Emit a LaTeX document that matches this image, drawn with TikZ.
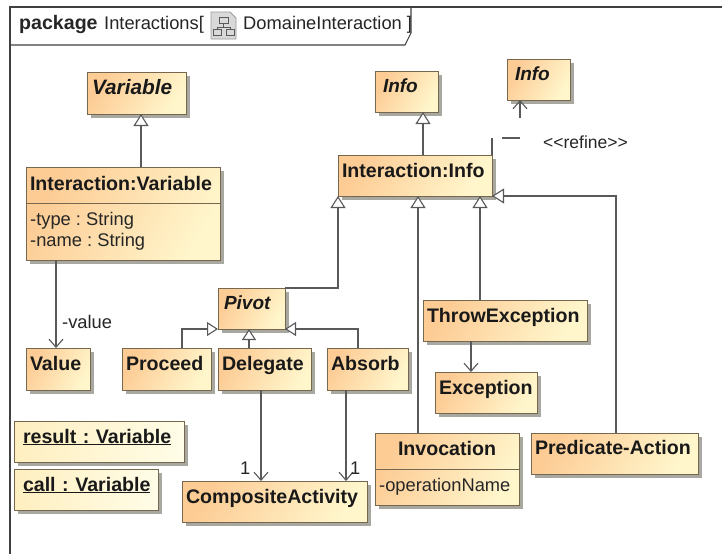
\documentclass[tikz,border=0pt]{standalone}
\usepackage{fontspec}
\setmainfont{Liberation Sans}
\usetikzlibrary{shadows,arrows.meta,calc}
\definecolor{boxline}{HTML}{75684F}
\definecolor{connline}{HTML}{595959}
\definecolor{orangeC}{HTML}{FDCB94}
\definecolor{yellowC}{HTML}{FFF6CC}
\definecolor{paleL}{HTML}{FFEFC0}
\definecolor{paleR}{HTML}{FFFDE8}
\definecolor{shadowC}{HTML}{A8A8A0}
\tikzset{
  uml/.style n args={4}{anchor=north west,draw=boxline,line width=0.9pt,outer sep=0pt,
    inner ysep=0pt,inner xsep=#3,text width=#1pt-2*#3,minimum height=#2pt,
    text height=#4pt,text depth=#2pt-#4pt,align=left,
    font=\fontsize{19.6}{22}\selectfont\bfseries,text=black!90,
    drop shadow={shadow xshift=3.5pt,shadow yshift=-3.5pt,fill=shadowC,opacity=1},
    left color=orangeC,right color=yellowC,shading angle=60},
  absname/.style={font=\fontsize{19}{22}\selectfont\bfseries\itshape},
  objbox/.style={left color=paleL,right color=paleR},
  plain/.style={font=\fontsize{18.3}{20}\selectfont,text=black!85,inner sep=0pt,anchor=base west},
  conn/.style={draw=connline,line width=1.1pt},
  gen/.style={conn,-{Triangle[open,length=12pt,width=15pt,fill=white]}},
  genS/.style={conn,-{Triangle[open,length=11pt,width=14pt,fill=white]}},
  assoc/.style={conn,-{Straight Barb[length=8pt,width=14pt]}},
}
\begin{document}
\frenchspacing
\begin{tikzpicture}[x=1pt,y=-1pt]
\useasboundingbox (0,0) rectangle (722,554);
\fill[white] (0,0) rectangle (722,554);
% frame
\coordinate (frameBL) at (10,554);
\coordinate (frameTL) at (10,7);
\coordinate (frameTR) at (722,7);
\draw[line width=1.1pt,draw=black!75] (frameBL) -- (frameTL) -- (frameTR);
\draw[line width=1.1pt,draw=black!75] (10,45) -- (405,45) -- (411,33) -- (411,7);
\node[plain,font=\fontsize{19.6}{22}\selectfont\bfseries] (pkg) at (19,29) {package};
\node[plain] (pkgname) at (104,29) {Interactions[};
\node[plain] (dgm) at (243,29) {DomaineInteraction ]};
% icon
\draw[draw=gray!80,fill=black!15,line width=0.8pt] (211,12) -- (230,12) -- (236,18) -- (236,39) -- (211,39) -- cycle;
\draw[draw=black!65,line width=0.9pt] (219,17) rectangle (228,23) (223.5,23) -- (223.5,27) (217,27) -- (230,27) (217,27) -- (217,29) (230,27) -- (230,29) (213.5,29) rectangle (221,35) (226,29) rectangle (234,35);
% boxes
\node[uml={99}{42}{5pt}{22},font=\fontsize{20.8}{22}\selectfont\bfseries\itshape] (variable) at (87,72) {Variable};
\node[uml={194}{93}{4pt}{23}] (ivar) at (26,167) {Interaction:Variable};
\node[uml={64}{42}{4pt}{22}] (value) at (26,348) {Value};
\node[uml={89}{42}{4pt}{22}] (proceed) at (122,348) {Proceed};
\node[uml={93}{42}{4pt}{22}] (delegate) at (218,348) {Delegate};
\node[uml={81}{42}{4pt}{22}] (absorb) at (327,348) {Absorb};
\node[uml={67}{41}{6pt}{21},absname] (pivot) at (218,288) {Pivot};
\node[uml={170}{41}{9pt}{22},objbox] (result) at (14,421) {\underline{result : Variable}};
\node[uml={144}{41}{9pt}{22},objbox] (call) at (14,469) {\underline{call : Variable}};
\node[uml={185}{41}{4pt}{22}] (composite) at (182,481) {CompositeActivity};
\node[uml={144}{72}{0pt}{22},align=center] (invocation) at (375,433) {Invocation};
\node[uml={167}{41}{4pt}{21}] (predicate) at (531,433) {Predicate-Action};
\node[uml={164}{41}{4pt}{22}] (throw) at (423,300) {ThrowException};
\node[uml={102}{41}{4pt}{22}] (exception) at (435,372) {Exception};
\node[uml={154}{41}{4pt}{22}] (iinfo) at (338,155) {Interaction:Info};
\node[uml={63}{41}{8pt}{21},absname] (info) at (375,71) {Info};
\node[uml={63}{41}{8pt}{21},absname] (infob) at (507,59) {Info};
% compartments
\draw[draw=boxline,line width=0.9pt] ($(ivar.north west)+(0,36)$) coordinate (ivl) -- (ivl -| ivar.east);
\draw[draw=boxline,line width=0.9pt] ($(invocation.north west)+(0,36)$) coordinate (inl) -- (inl -| invocation.east);
\node[plain] (attr1) at (30,225) {-type : String};
\node[plain] (attr2) at (30,246) {-name : String};
\node[plain] (attr3) at (379,491) {-operationName};
% generalizations
\draw[gen] ([xshift=18pt]ivar.north) -- ([xshift=4.5pt]variable.south);
\draw[gen] ([xshift=8pt]iinfo.north) -- ([xshift=16.5pt]info.south);
\draw[gen] (pivot.north east) -| (iinfo.south west);
\draw[gen] ([xshift=43pt]invocation.north west) -- ([xshift=80pt]iinfo.south west);
\draw[gen] ([xshift=57pt]throw.north west) -- ([xshift=142pt]iinfo.south west);
\draw[gen] ([xshift=85pt]predicate.north west) |- (iinfo.south east);
\draw[genS] ([xshift=60pt]proceed.north west) |- (pivot.south west);
\draw[genS] ([xshift=31pt]delegate.north west) -- ([xshift=31pt]pivot.south west);
\draw[genS] ([xshift=31pt]absorb.north west) |- (pivot.south east);
% associations
\draw[assoc] ([xshift=30pt]ivar.south west) -- ([xshift=30pt]value.north west);
\node[plain] (vallab) at (62,328) {-value};
\draw[assoc] ([xshift=43pt]delegate.south west) -- ([xshift=79pt]composite.north west);
\draw[assoc] ([xshift=19pt]absorb.south west) -- ([xshift=164pt]composite.north west);
\node[plain] (one1) at (240,474) {1};
\node[plain] (one2) at (350,474) {1};
\draw[assoc] ([xshift=48pt]throw.south west) -- ([xshift=36pt]exception.north west);
% refine
\coordinate (rbend1) at (492,138);
\coordinate (rbend2) at (520,138);
\draw[assoc,dash pattern=on 17pt off 10pt on 18pt off 20pt on 18pt] (iinfo.north east) -- (rbend1) -- (rbend2) -- (infob.south -| rbend2);
\node[plain,font=\fontsize{17.5}{20}\selectfont] (refine) at (543,148) {{<}{<}refine{>}{>}};
\end{tikzpicture}
\end{document}
